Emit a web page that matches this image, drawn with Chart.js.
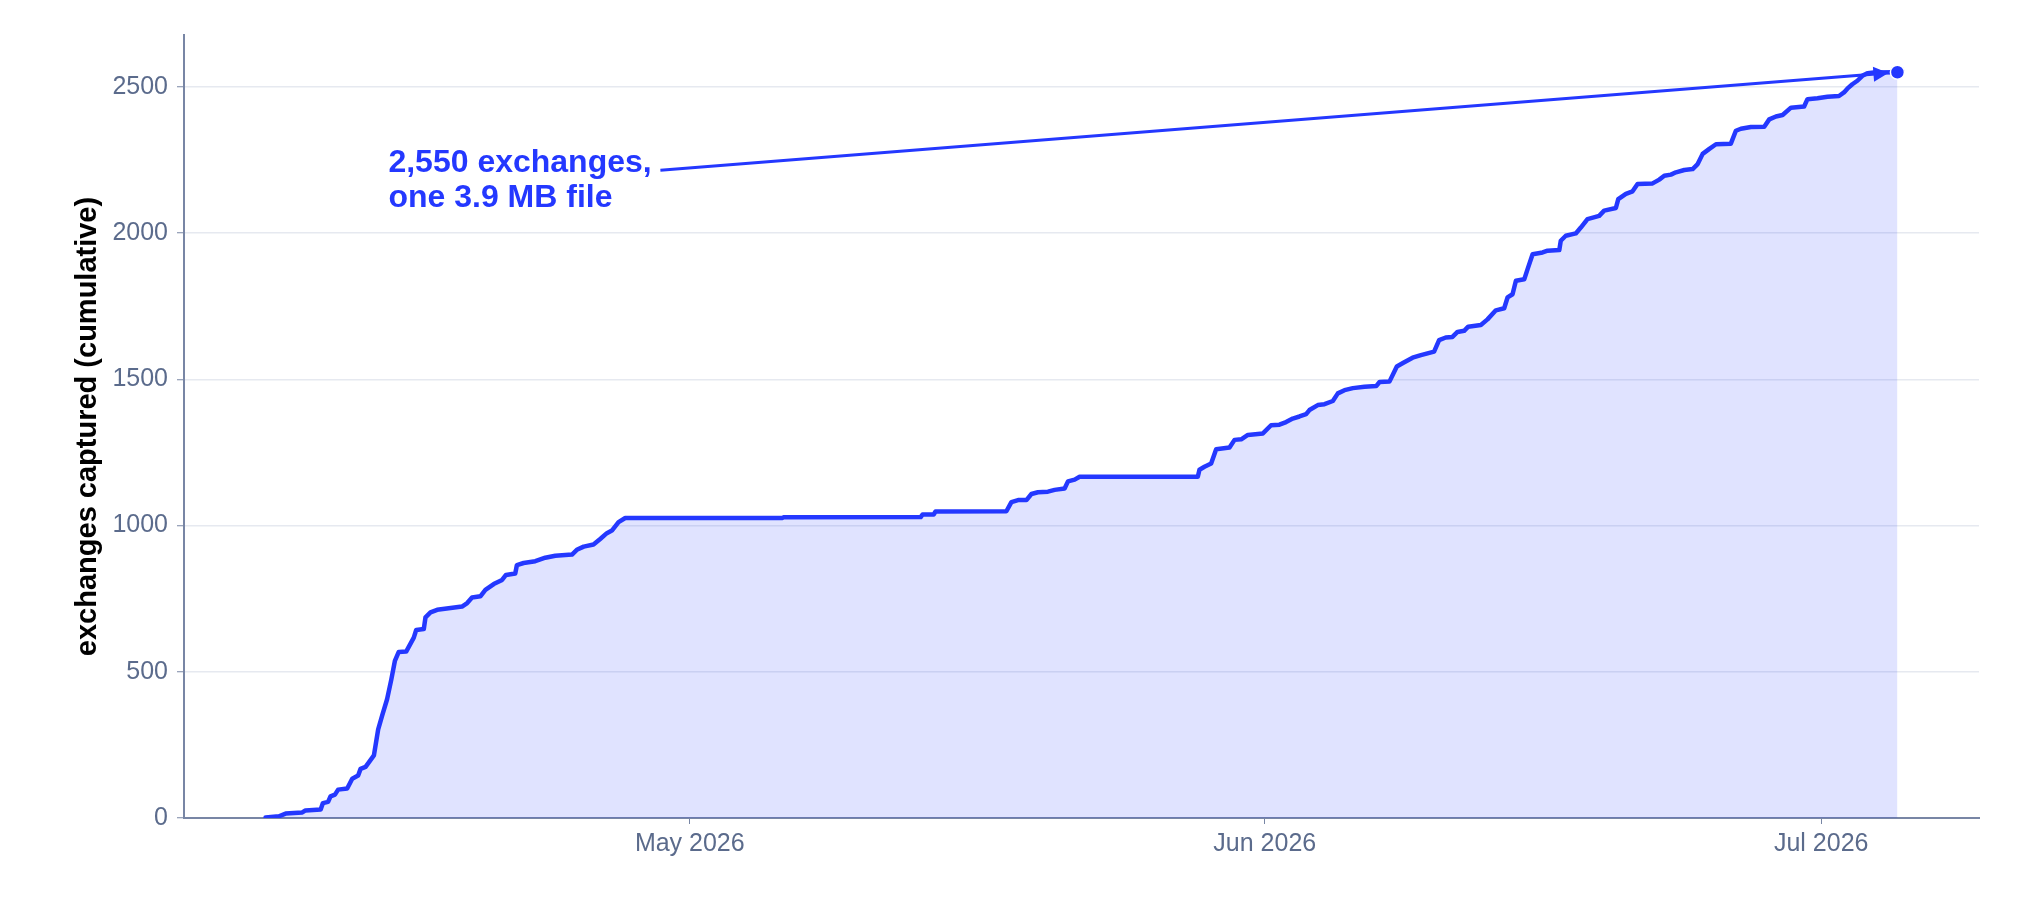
<!DOCTYPE html>
<html lang="en">
<head>
    <meta charset="UTF-8">
    <title>Exchanges captured</title>
    <script src="https://cdn.jsdelivr.net/npm/chart.js"></script>
    <style>
        body {
            margin: 0;
            background: #ffffff;
        }
        canvas {
            display: block;
        }
    </style>
</head>
<body>
    <canvas id="lineChart" width="2040" height="900"></canvas>

    <script>
        // capture times (UTC) and running total of exchanges
        const stamps = [
            '2026-04-08 03:07', '2026-04-08 20:24', '2026-04-09 05:02', '2026-04-10 02:38', '2026-04-10 06:43',
            '2026-04-11 02:24', '2026-04-11 05:17', '2026-04-11 12:00', '2026-04-11 15:07', '2026-04-11 20:53',
            '2026-04-12 00:58', '2026-04-12 12:43', '2026-04-12 19:12', '2026-04-13 02:53', '2026-04-13 06:00',
            '2026-04-13 12:29', '2026-04-13 23:17', '2026-04-14 04:48', '2026-04-14 09:50', '2026-04-14 16:19',
            '2026-04-14 21:50', '2026-04-15 02:24', '2026-04-15 07:26', '2026-04-15 17:02', '2026-04-16 02:53',
            '2026-04-16 06:00', '2026-04-16 15:50', '2026-04-16 18:00', '2026-04-17 00:29', '2026-04-17 09:07',
            '2026-04-18 17:17', '2026-04-19 00:00', '2026-04-19 06:14', '2026-04-19 17:02', '2026-04-19 23:31',
            '2026-04-20 10:19', '2026-04-20 21:07', '2026-04-21 02:10', '2026-04-21 14:10', '2026-04-21 16:19',
            '2026-04-22 00:58', '2026-04-22 16:05', '2026-04-23 05:02', '2026-04-23 18:00', '2026-04-24 15:36',
            '2026-04-24 21:50', '2026-04-25 06:43', '2026-04-25 19:26', '2026-04-26 04:05', '2026-04-26 12:43',
            '2026-04-26 19:12', '2026-04-27 03:50', '2026-04-27 12:29', '2026-05-06 00:00', '2026-05-06 01:12',
            '2026-05-13 10:48', '2026-05-13 13:12', '2026-05-14 03:36', '2026-05-14 06:00', '2026-05-18 01:41',
            '2026-05-18 08:10', '2026-05-18 16:48', '2026-05-19 03:36', '2026-05-19 10:05', '2026-05-19 18:29',
            '2026-05-20 07:26', '2026-05-20 16:05', '2026-05-21 05:02', '2026-05-21 09:22', '2026-05-21 18:00',
            '2026-05-22 00:29', '2026-05-28 09:22', '2026-05-28 11:31', '2026-05-28 18:00', '2026-05-29 02:38',
            '2026-05-29 09:07', '2026-05-30 02:24', '2026-05-30 08:53', '2026-05-30 17:31', '2026-05-31 02:10',
            '2026-05-31 21:36', '2026-06-01 08:10', '2026-06-01 18:58', '2026-06-02 03:36', '2026-06-02 12:14',
            '2026-06-02 20:53', '2026-06-03 05:31', '2026-06-03 09:50', '2026-06-03 20:38', '2026-06-04 05:17',
            '2026-06-04 16:05', '2026-06-04 22:34', '2026-06-05 07:12', '2026-06-05 18:00', '2026-06-06 09:07',
            '2026-06-07 00:14', '2026-06-07 04:34', '2026-06-07 17:31', '2026-06-08 02:53', '2026-06-08 10:48',
            '2026-06-08 23:17', '2026-06-09 10:05', '2026-06-10 03:07', '2026-06-10 09:36', '2026-06-10 18:14',
            '2026-06-11 02:53', '2026-06-11 09:22', '2026-06-11 18:00', '2026-06-11 23:17', '2026-06-12 15:36',
            '2026-06-13 00:14', '2026-06-13 11:02', '2026-06-13 21:50', '2026-06-14 02:10', '2026-06-14 08:38',
            '2026-06-14 12:58', '2026-06-14 23:46', '2026-06-15 04:05', '2026-06-15 10:34', '2026-06-15 23:31',
            '2026-06-16 06:00', '2026-06-16 21:07', '2026-06-16 23:02', '2026-06-17 05:31', '2026-06-17 18:29',
            '2026-06-18 00:58', '2026-06-18 09:36', '2026-06-19 00:43', '2026-06-19 07:12', '2026-06-19 22:19',
            '2026-06-20 01:26', '2026-06-20 11:17', '2026-06-20 19:55', '2026-06-21 02:24', '2026-06-21 21:50',
            '2026-06-22 06:29', '2026-06-22 12:58', '2026-06-22 21:36', '2026-06-23 04:05', '2026-06-23 14:53',
            '2026-06-24 01:41', '2026-06-24 08:10', '2026-06-24 14:38', '2026-06-24 23:17', '2026-06-25 07:55',
            '2026-06-26 03:07', '2026-06-26 09:36', '2026-06-26 16:05', '2026-06-27 05:02', '2026-06-27 22:19',
            '2026-06-28 04:48', '2026-06-28 13:26', '2026-06-28 22:05', '2026-06-29 08:53', '2026-06-30 01:55',
            '2026-06-30 06:14', '2026-06-30 19:12', '2026-07-01 08:10', '2026-07-01 23:02', '2026-07-02 05:31',
            '2026-07-02 09:50', '2026-07-02 16:19', '2026-07-02 22:48', '2026-07-03 05:17', '2026-07-03 11:46',
            '2026-07-03 20:24', '2026-07-05 02:38'
        ];
        const counts = [
            2, 6, 15, 19, 26,
            29, 51, 55, 74, 80,
            97, 101, 134, 145, 168,
            175, 214, 303, 349, 406,
            474, 537, 568, 569, 617,
            643, 646, 686, 703, 712,
            723, 735, 754, 758, 780,
            800, 814, 831, 836, 865,
            872, 878, 890, 897, 901,
            917, 928, 935, 954, 974,
            983, 1012, 1026, 1026, 1028,
            1029, 1038, 1038, 1048, 1049,
            1080, 1087, 1087, 1108, 1114,
            1116, 1122, 1127, 1151, 1157,
            1167, 1167, 1191, 1201, 1212,
            1261, 1267, 1293, 1295, 1310,
            1315, 1343, 1345, 1354, 1366,
            1373, 1381, 1395, 1412, 1415,
            1426, 1452, 1463, 1470, 1475,
            1477, 1491, 1493, 1544, 1556,
            1574, 1583, 1595, 1634, 1643,
            1645, 1662, 1666, 1680, 1686,
            1705, 1736, 1743, 1780, 1791,
            1837, 1842, 1877, 1928, 1934,
            1940, 1942, 1974, 1991, 1999,
            2019, 2048, 2059, 2077, 2086,
            2116, 2134, 2143, 2168, 2170,
            2183, 2196, 2200, 2208, 2216,
            2219, 2236, 2271, 2288, 2304,
            2306, 2350, 2357, 2363, 2364,
            2389, 2399, 2404, 2429, 2433,
            2458, 2461, 2466, 2469, 2481,
            2494, 2509, 2521, 2538, 2547,
            2549, 2550
        ];

        const xTickDates = ['2026-05-01 00:00', '2026-06-01 00:00', '2026-07-01 00:00'];
        const xTickLabels = ['May 2026', 'Jun 2026', 'Jul 2026'];
        const yTickValues = [0, 500, 1000, 1500, 2000, 2500];
        const annotationLines = ['2,550 exchanges,', 'one 3.9 MB file'];

        const blue = '#2438ff';
        const axisColor = '#7886a5';
        const tickText = '#5b6b8c';
        const fontFamily = "'Liberation Sans', Arial, Helvetica, sans-serif";

        function toMs(s) {
            return Date.parse(s.replace(' ', 'T') + ':00Z');
        }

        const points = stamps.map((s, i) => ({ x: toMs(s), y: counts[i] }));
        const tickMs = xTickDates.map(toMs);
        const lastIndex = points.length - 1;

        // 5% padding each side, like an autoranged axis
        const xFirst = points[0].x;
        const xLast = points[lastIndex].x;
        const xPad = (xLast - xFirst) * 0.05;
        const yMax = counts[lastIndex] * 1.05;

        // callout text + arrow pointing at the last point
        const calloutPlugin = {
            id: 'callout',
            afterDatasetsDraw(chart) {
                const ctx = chart.ctx;
                const px = chart.scales.x.getPixelForValue(xLast);
                const py = chart.scales.y.getPixelForValue(counts[lastIndex]);
                const tailX = px - 1237;
                const tailY = py + 98;
                const dx = px - tailX;
                const dy = py - tailY;
                const len = Math.sqrt(dx * dx + dy * dy);
                const ux = dx / len;
                const uy = dy / len;
                const tipX = px - ux * 9;
                const tipY = py - uy * 9;
                const headLen = 15;
                const headHalf = 7.5;
                const baseX = tipX - ux * headLen;
                const baseY = tipY - uy * headLen;

                ctx.save();
                ctx.strokeStyle = blue;
                ctx.fillStyle = blue;
                ctx.lineWidth = 3;
                ctx.beginPath();
                ctx.moveTo(tailX, tailY);
                ctx.lineTo(baseX + ux * 2, baseY + uy * 2);
                ctx.stroke();

                ctx.beginPath();
                ctx.moveTo(tipX, tipY);
                ctx.lineTo(baseX - uy * headHalf, baseY + ux * headHalf);
                ctx.lineTo(baseX + uy * headHalf, baseY - ux * headHalf);
                ctx.closePath();
                ctx.fill();

                ctx.font = 'bold 32px ' + fontFamily;
                ctx.textAlign = 'left';
                ctx.textBaseline = 'alphabetic';
                annotationLines.forEach((line, i) => {
                    ctx.fillText(line, tailX - 272, tailY + 2 + i * 35);
                });
                ctx.restore();
            }
        };

        const ctx = document.getElementById('lineChart').getContext('2d');
        new Chart(ctx, {
            type: 'line',
            data: {
                datasets: [
                    {
                        label: 'exchanges',
                        data: points,
                        borderColor: blue,
                        backgroundColor: 'rgba(36, 56, 255, 0.14)',
                        borderWidth: 4.5,
                        borderJoinStyle: 'round',
                        borderCapStyle: 'round',
                        fill: 'origin',
                        tension: 0,
                        pointRadius: c => (c.dataIndex === lastIndex ? 7 : 0),
                        pointBackgroundColor: blue,
                        pointBorderColor: '#ffffff',
                        pointBorderWidth: 1.5,
                        pointHoverRadius: 0
                    }
                ]
            },
            options: {
                responsive: false,
                animation: false,
                devicePixelRatio: 1,
                layout: {
                    padding: { left: 0, right: 61, top: 35, bottom: 0 }
                },
                plugins: {
                    legend: { display: false },
                    tooltip: { enabled: false }
                },
                scales: {
                    x: {
                        type: 'linear',
                        min: xFirst - xPad,
                        max: xLast + xPad,
                        afterFit: scale => { scale.height = 82; },
                        afterBuildTicks: scale => {
                            scale.ticks = tickMs.map(v => ({ value: v }));
                        },
                        grid: {
                            drawOnChartArea: false,
                            drawTicks: true,
                            tickLength: 6,
                            tickColor: axisColor,
                            tickWidth: 1
                        },
                        border: { color: axisColor, width: 2 },
                        ticks: {
                            padding: 5,
                            maxRotation: 0,
                            color: tickText,
                            font: { family: fontFamily, size: 25 },
                            callback: value => xTickLabels[tickMs.indexOf(value)]
                        }
                    },
                    y: {
                        min: 0,
                        max: yMax,
                        afterFit: scale => { scale.width = 184; },
                        afterBuildTicks: scale => {
                            scale.ticks = yTickValues.map(v => ({ value: v }));
                        },
                        grid: {
                            color: '#e6e9f0',
                            lineWidth: 1.5,
                            tickLength: 7,
                            tickColor: axisColor,
                            tickWidth: 1
                        },
                        border: { color: axisColor, width: 2 },
                        ticks: {
                            padding: 9,
                            color: tickText,
                            font: { family: fontFamily, size: 25 },
                            callback: value => String(value)
                        },
                        title: {
                            display: true,
                            text: 'exchanges captured (cumulative)',
                            color: '#000000',
                            padding: { top: 71, bottom: 0 },
                            font: { family: fontFamily, size: 29, weight: 'bold' }
                        }
                    }
                }
            },
            plugins: [calloutPlugin]
        });
    </script>
</body>
</html>
